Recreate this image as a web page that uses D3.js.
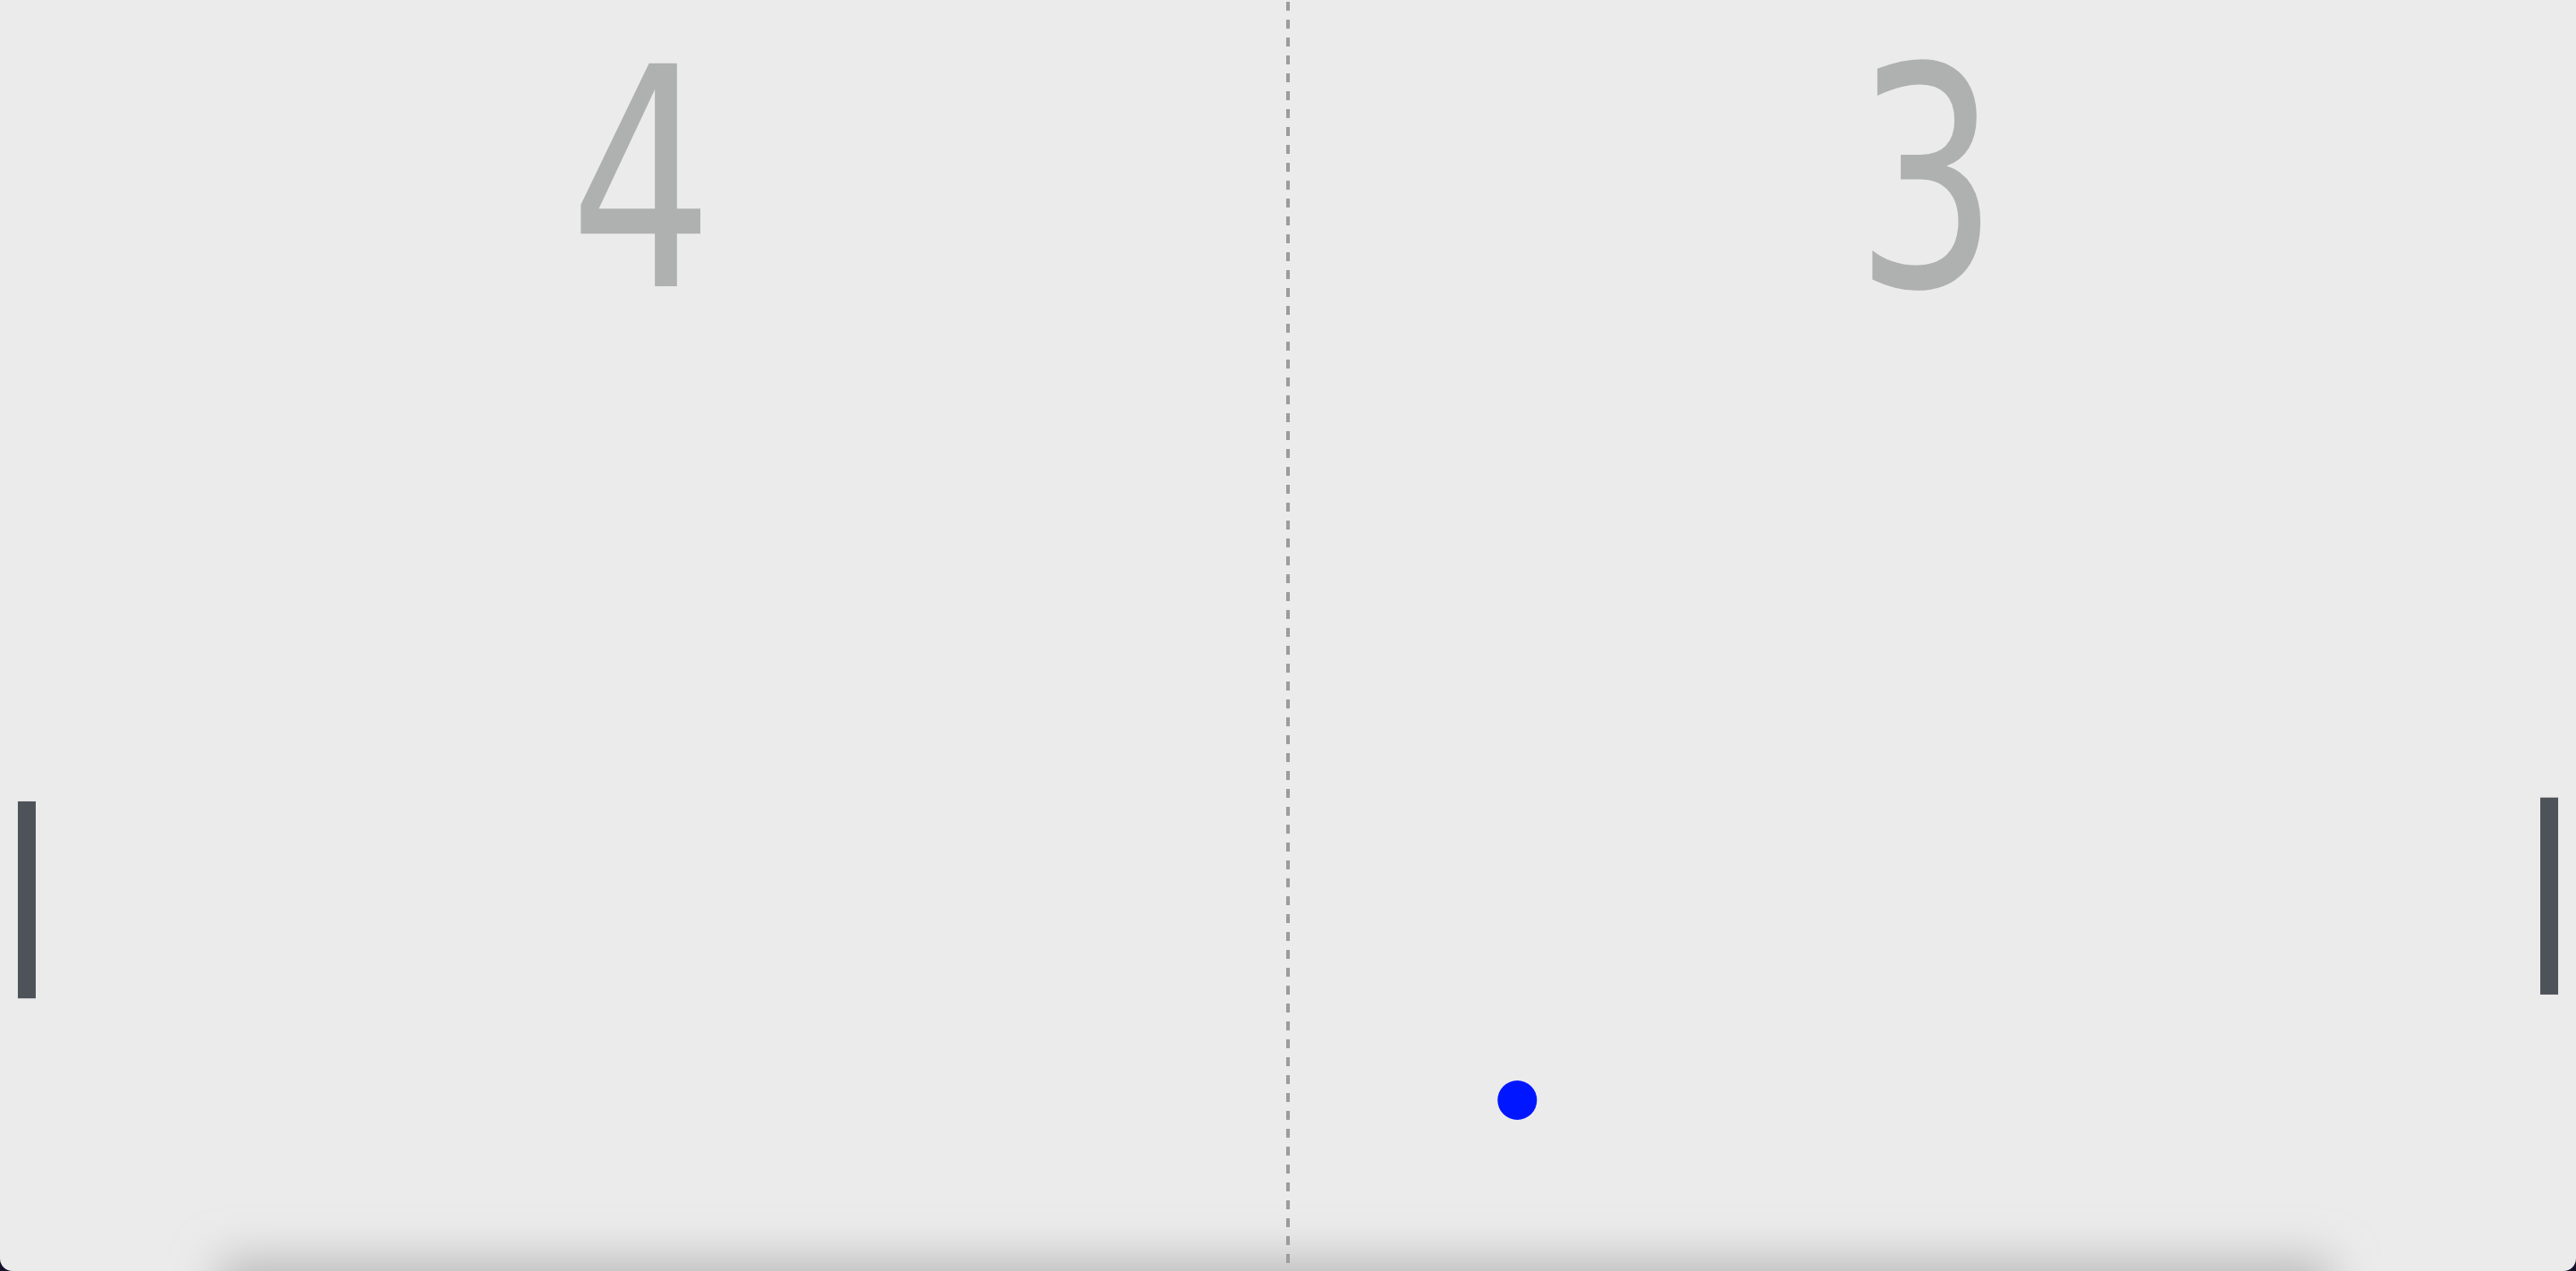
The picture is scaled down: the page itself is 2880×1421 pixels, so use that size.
<!DOCTYPE html>
<html lang="en">
<head>
<meta charset="utf-8">
<script src="https://d3js.org/d3.v7.min.js"></script>
<title>Pong</title>
<style>
  html, body { margin: 0; padding: 0; background: #15102c; overflow: hidden; }
  #court { width: 2880px; height: 1421px; border-radius: 0 0 14px 14px; overflow: hidden; background: #ebebeb; }
  svg { display: block; }
</style>
</head>
<body>
<div id="court"></div>
<script>
// game state, in court percent units (0..100 on each axis)
var players = ["left", "right"];
var scores = [4, 3];
var scoreX = [24.9, 74.8];
var paddleX = [1.04, 98.96];
var paddleY = [70.8, 70.5];     // paddle centres
var paddleLen = 15.5;           // paddle length, % of court height
var ballPos = [58.9, 86.56];

var width = 2880, height = 1421;

var x = d3.scaleLinear().domain([0, 100]).range([0, width]);
var y = d3.scaleLinear().domain([0, 100]).range([0, height]);

var svg = d3.select("#court").append("svg")
    .attr("width", width)
    .attr("height", height);

// soft shadow along the bottom edge
var defs = svg.append("defs");
defs.append("filter")
    .attr("id", "blur")
    .attr("x", "-20%").attr("y", "-200%")
    .attr("width", "140%").attr("height", "500%")
  .append("feGaussianBlur")
    .attr("stdDeviation", 26);

svg.append("rect")
    .attr("x", 245)
    .attr("y", height - 12)
    .attr("width", width - 520)
    .attr("height", 70)
    .attr("fill", "#b8b8b8")
    .attr("filter", "url(#blur)");

// centre net
svg.append("line")
    .attr("x1", x(50)).attr("x2", x(50))
    .attr("y1", y(0)).attr("y2", y(100))
    .attr("stroke", "#9c9c9c")
    .attr("stroke-width", 4)
    .attr("stroke-dasharray", "10 10")
    .attr("stroke-dashoffset", -2);

// scores, squeezed to a condensed look
svg.selectAll("text.score")
    .data(scores)
    .enter().append("text")
    .attr("class", "score")
    .attr("x", function(d, i) { return x(scoreX[i]); })
    .attr("y", 320)
    .attr("text-anchor", "middle")
    .attr("textLength", 160)
    .attr("lengthAdjust", "spacingAndGlyphs")
    .style("font-family", "'DejaVu Sans', sans-serif")
    .style("font-size", "342px")
    .style("font-weight", 400)
    .style("fill", "#afb1b0")
    .text(function(d) { return d; });

// paddles
svg.selectAll("rect.paddle")
    .data(players)
    .enter().append("rect")
    .attr("class", "paddle")
    .attr("x", function(d, i) { return x(paddleX[i]) - 10; })
    .attr("y", function(d, i) { return y(paddleY[i] - paddleLen / 2); })
    .attr("width", 20)
    .attr("height", y(paddleLen) - y(0))
    .attr("fill", "#4e535a");

// ball
svg.append("circle")
    .attr("cx", x(ballPos[0]))
    .attr("cy", y(ballPos[1]))
    .attr("r", 22)
    .attr("fill", "#0016ff");
</script>
</body>
</html>
